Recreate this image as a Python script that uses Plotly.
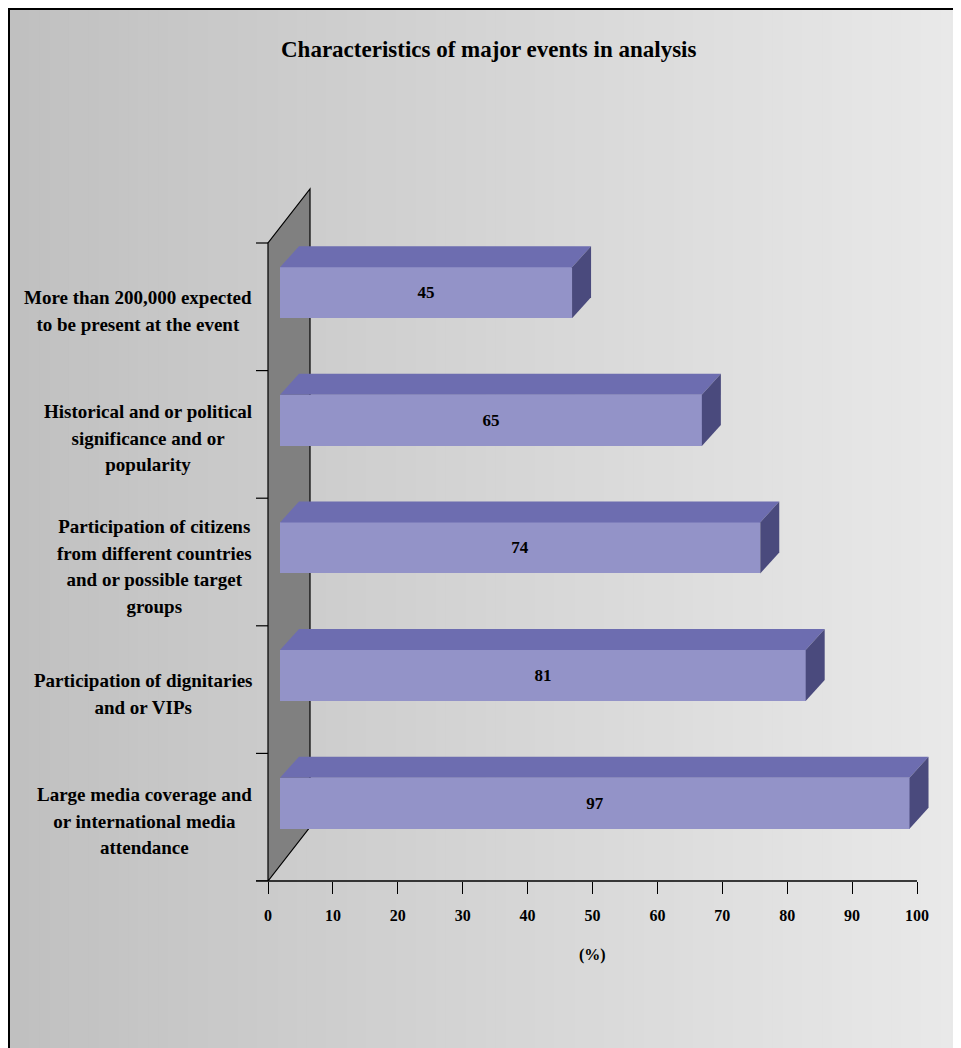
import plotly.graph_objects as go

# ---- data ----
categories = [
    "Large media coverage and<br>or international media<br>attendance",
    "Participation of dignitaries<br>and or VIPs",
    "Participation of citizens<br>from different countries<br>and or possible target<br>groups",
    "Historical and or political<br>significance and or<br>popularity",
    "More than 200,000 expected<br>to be present at the event",
]
values = [97, 81, 74, 65, 45]
x_ticks = [0, 10, 20, 30, 40, 50, 60, 70, 80, 90, 100]
title_text = "Characteristics of major events in analysis"
x_title = "(%)"

# ---- layout geometry (page pixels -> figure pixels -> data units) ----
OFF = 8                      # default page body margin
W, H = 961 - OFF, 1048 - OFF
PXX = 6.49                   # px per x unit
PXY = 127.6                  # px per category unit
X_ZERO_PX = 268 - OFF
AXIS_Y_PX = 881 - OFF
X0 = -X_ZERO_PX / PXX
X1 = (W - X_ZERO_PX) / PXX
Y1 = AXIS_Y_PX / PXY

FONT = "Liberation Serif"
FRONT = "#9393C8"
TOP = "#6D6DB0"
SIDE = "#4A4A7D"
WALL = "#808080"

bar_start = 12 / PXX
depth_dx = 19 / PXX
depth_dy = 21 / PXY
bar_off = 0.11
bar_half = 0.2
wall_dx = 42 / PXX
wall_dy = 54 / PXY

n = len(categories)
pos = [i + 0.5 for i in range(n)]

fig = go.Figure()

# front faces
fig.add_trace(go.Bar(
    orientation="h",
    y=[p + bar_off for p in pos],
    x=values,
    base=[bar_start] * n,
    width=2 * bar_half,
    marker=dict(color=FRONT, line=dict(width=0)),
    text=[str(v) for v in values],
    textposition="inside",
    insidetextanchor="middle",
    textangle=0,
    constraintext="none",
    textfont=dict(family=FONT, size=17, color="black", weight="bold"),
    hoverinfo="skip",
    showlegend=False,
))

# top and side faces
for p, v in zip(pos, values):
    top = p + bar_off + bar_half
    bot = p + bar_off - bar_half
    xs = bar_start
    xe = bar_start + v
    fig.add_trace(go.Scatter(
        x=[xs, xe, xe + depth_dx, xs + depth_dx, xs],
        y=[top, top, top + depth_dy, top + depth_dy, top],
        mode="lines", fill="toself", fillcolor=TOP,
        line=dict(width=0, color=TOP), hoverinfo="skip", showlegend=False,
    ))
    fig.add_trace(go.Scatter(
        x=[xe, xe, xe + depth_dx, xe + depth_dx, xe],
        y=[bot, top, top + depth_dy, bot + depth_dy, bot],
        mode="lines", fill="toself", fillcolor=SIDE,
        line=dict(width=0, color=SIDE), hoverinfo="skip", showlegend=False,
    ))

shapes = []
# background gradient strips
strips = 96
left = 1.5 / W
for i in range(strips):
    t = i / (strips - 1)
    c = int(round(192 + (233 - 192) * t))
    shapes.append(dict(
        type="rect", xref="paper", yref="paper", layer="below",
        x0=left + (1 - left) * i / strips, x1=left + (1 - left) * (i + 1) / strips + 0.001,
        y0=0, y1=1 - 1.5 / H,
        fillcolor=f"rgb({c},{c},{c})", line=dict(width=0),
    ))
# frame
shapes.append(dict(type="line", xref="paper", yref="paper", x0=0, x1=1, y0=1 - 1 / H, y1=1 - 1 / H,
                   line=dict(color="black", width=2)))
shapes.append(dict(type="line", xref="paper", yref="paper", x0=1 / W, x1=1 / W, y0=0, y1=1,
                   line=dict(color="black", width=2)))
# back wall
shapes.append(dict(
    type="path", xref="x", yref="y", layer="below",
    path=f"M 0,0 L 0,{n} L {wall_dx},{n + wall_dy} L {wall_dx},{wall_dy} Z",
    fillcolor=WALL, line=dict(color="black", width=1.2),
))
# category boundary ticks
for k in range(n + 1):
    shapes.append(dict(type="line", xref="x", yref="y", x0=-12 / PXX, x1=0, y0=k, y1=k,
                       line=dict(color="black", width=1.2)))
# x axis line
shapes.append(dict(type="line", xref="x", yref="paper", x0=-12 / PXX, x1=x_ticks[-1],
                   y0=(H - AXIS_Y_PX) / H, y1=(H - AXIS_Y_PX) / H,
                   line=dict(color="black", width=1.3)))

annotations = []
annotations.append(dict(
    text=title_text, xref="paper", yref="paper", x=(489 - OFF) / W, y=1 - (50 - OFF) / H,
    xanchor="center", yanchor="middle", showarrow=False,
    font=dict(family=FONT, size=23, color="black", weight="bold"),
))
for p, lab in zip(pos, categories):
    lines = lab.split("<br>")
    txt = "<br>".join(f'<span style="font-size:19px">{ln}</span>' for ln in lines)
    annotations.append(dict(
        text=txt, xref="paper", yref="y", x=(254 - OFF) / W, y=p - 4 / PXY,
        xanchor="right", yanchor="middle", align="center", showarrow=False,
        font=dict(family=FONT, size=20.5, color="black", weight="bold"),
    ))
annotations.append(dict(
    text=x_title, xref="x", yref="paper", x=50, y=(H - (955 - OFF)) / H,
    xanchor="center", yanchor="middle", showarrow=False,
    font=dict(family=FONT, size=16, color="black", weight="bold"),
))

fig.update_layout(
    width=W, height=H,
    margin=dict(l=0, r=0, t=0, b=0, autoexpand=False),
    paper_bgcolor="white",
    plot_bgcolor="rgba(0,0,0,0)",
    shapes=shapes,
    annotations=annotations,
    bargap=0,
    xaxis=dict(
        range=[X0, X1], domain=[0, 1],
        tickmode="array", tickvals=x_ticks, ticktext=[str(t) for t in x_ticks],
        ticks="outside", ticklen=12, tickwidth=1.2, tickcolor="black",
        showgrid=False, zeroline=False, showline=False,
        tickfont=dict(family=FONT, size=16, color="black", weight="bold"),
        ticklabelstandoff=8, fixedrange=True,
    ),
    yaxis=dict(
        range=[0, Y1], domain=[(H - AXIS_Y_PX) / H, 1],
        visible=False, showgrid=False, zeroline=False, fixedrange=True,
    ),
)

fig.write_html("out.html")
